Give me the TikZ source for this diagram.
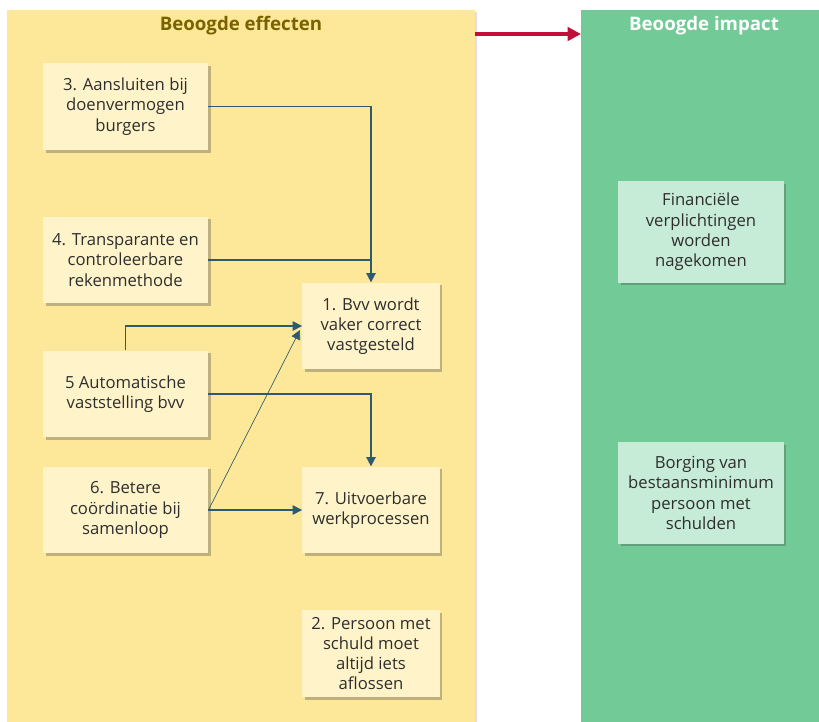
\documentclass[tikz,border=0pt]{standalone}
\usepackage{fontspec}
\setmainfont{Open Sans}
\usetikzlibrary{shadows,arrows.meta}
\definecolor{panelY}{HTML}{FDE89A}
\definecolor{panelG}{HTML}{72CA97}
\definecolor{boxY}{HTML}{FFF4C9}
\definecolor{boxG}{HTML}{C6EBD6}
\definecolor{conn}{HTML}{2E5A6E}
\definecolor{redarr}{HTML}{C0103A}
\definecolor{headY}{HTML}{7A6200}
\begin{document}
\begin{tikzpicture}[x=0.75pt,y=-0.75pt,
  ybox/.style={fill=boxY,draw=none,minimum width=124pt,minimum height=65pt,align=center,
    inner sep=2pt,font=\fontsize{12.5}{15.2}\selectfont,text=black!82,
    drop shadow={shadow xshift=2pt,shadow yshift=-2pt,opacity=0.35,fill=black!70}},
  gbox/.style={ybox,fill=boxG,minimum height=76pt},
  smallbox/.style={ybox,minimum width=103pt},
  link/.style={draw=conn,line width=1.1pt,-{Triangle[length=7pt,width=7pt]}},
  thinlink/.style={draw=conn,line width=0.5pt,-{Triangle[length=7pt,width=7pt]}},
  plain/.style={draw=conn,line width=1.1pt}]
\useasboundingbox (0,0) rectangle (819,722);
\fill[white] (0,0) rectangle (819,722);
\node[fill=panelY,minimum width=351pt,minimum height=534pt,inner sep=0pt,anchor=north west,
  drop shadow={shadow xshift=1pt,shadow yshift=-1pt,opacity=0.25}] (py) at (7,10) {};
\node[fill=panelG,minimum width=178.5pt,minimum height=534pt,inner sep=0pt,anchor=north west] (pg) at (581,10) {};
\node[font=\bfseries\fontsize{14}{16}\selectfont,text=headY] (hy) at (241,26) {Beoogde effecten};
\node[font=\bfseries\fontsize{14}{16}\selectfont,text=white] (hg) at (704,26) {Beoogde impact};
\coordinate (ra) at (475,34);
\coordinate (rb) at (581,34);
\draw[redarr,line width=3pt,-{Triangle[length=10pt,width=10pt]}] (ra) -- (rb);

\node[ybox] (b3) at (125.5,106.5) {3. Aansluiten bij\\doenvermogen\\burgers};
\node[ybox] (b4) at (125.5,260) {4. Transparante en\\controleerbare\\rekenmethode};
\node[ybox] (b5) at (125.5,394) {5 Automatische\\vaststelling bvv};
\node[ybox] (b6) at (125.5,510) {6. Betere\\coördinatie bij\\samenloop};
\node[smallbox] (b1) at (371,326) {1. Bvv wordt\\vaker correct\\vastgesteld};
\node[smallbox] (b7) at (371,510) {7. Uitvoerbare\\werkprocessen};
\node[smallbox] (b2) at (371,653.5) {2. Persoon met\\schuld moet\\altijd iets\\aflossen};
\node[gbox] (g1) at (701,232) {Financiële\\verplichtingen\\worden\\nagekomen};
\node[gbox] (g2) at (701,493) {Borging van\\bestaansminimum\\persoon met\\schulden};

\draw[link] (b3.east) -| (b1.north);
\draw[plain] (b4.east) -- (b4.east -| b1.north);
\draw[link] (b5.north) |- (b1.west);
\draw[link] (b5.east) -| (b7.north);
\draw[link] (b6.east) -- (b7.west);
\coordinate (d1) at (300,330);
\draw[thinlink] (b6.east) -- (d1);
\end{tikzpicture}
\end{document}
